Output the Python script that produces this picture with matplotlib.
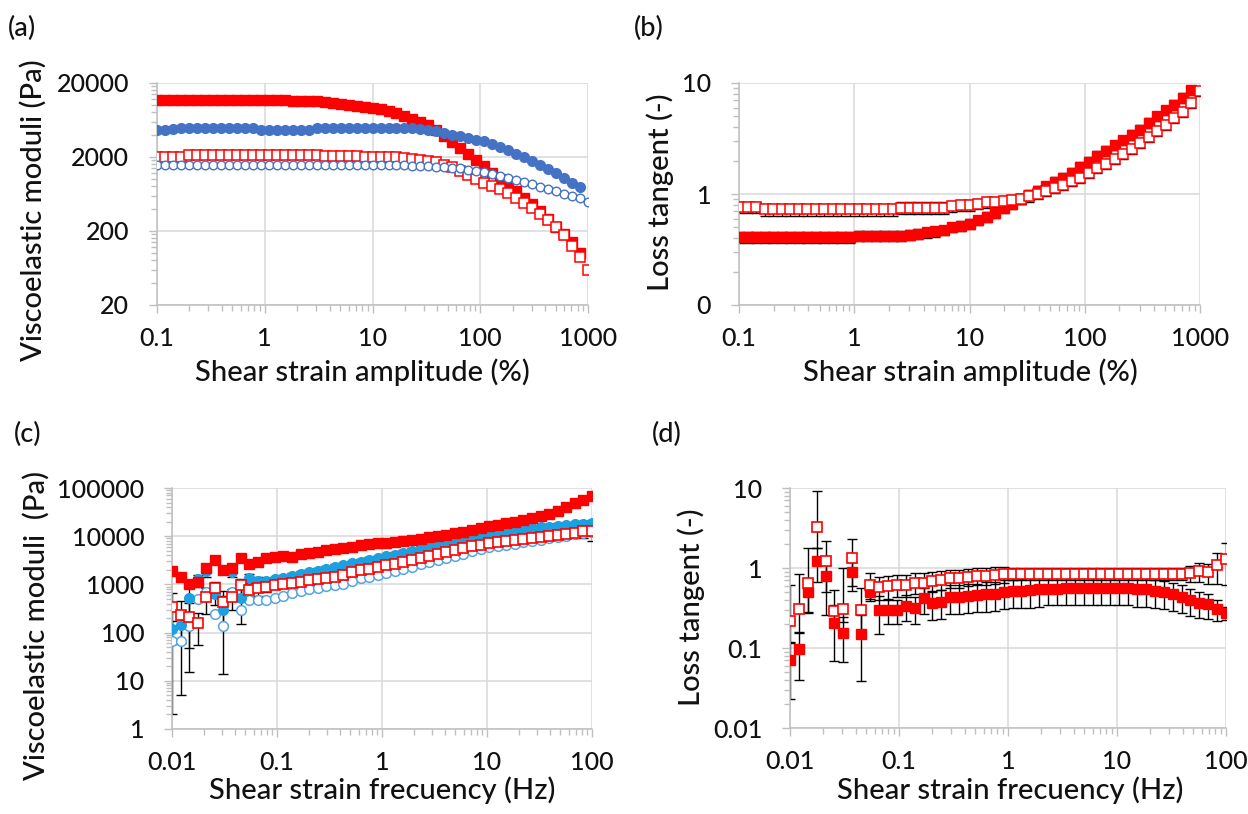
import matplotlib
matplotlib.use('Agg')
import matplotlib.pyplot as plt
from matplotlib.ticker import FixedLocator, FixedFormatter, NullFormatter

plt.rcParams['font.family'] = ['Lato', 'DejaVu Sans']
plt.rcParams['font.weight'] = 'medium'

# ---------------- data: strain sweep (panels a, b) ----------------
strain = [0.1, 0.119, 0.141, 0.167, 0.198, 0.235, 0.278, 0.33, 0.391, 0.464,
          0.55, 0.653, 0.774, 0.918, 1.09, 1.29, 1.53, 1.82, 2.15, 2.56,
          3.03, 3.59, 4.26, 5.06, 6.0, 7.11, 8.43, 10.0, 11.9, 14.1,
          16.7, 19.8, 23.5, 27.8, 33.0, 39.1, 46.4, 55.1, 65.3, 77.4,
          91.8, 109, 129, 153, 182, 215, 256, 303, 359, 426,
          506, 600, 711, 843, 1000]

# (a) red sample storage modulus (filled squares), ends at 843 %
a_red_Gp = [11900, 11900, 11900, 11900, 11900, 11900, 11900, 11900, 11900, 11900,
            11900, 11900, 11900, 11900, 11900, 11900, 11900, 11600, 11600, 11600,
            11300, 11000, 10750, 10500, 10200, 9900, 9500, 9150, 8800, 8300,
            7800, 7200, 6600, 6000, 5400, 4600, 3800, 3200, 2650, 2200,
            1830, 1530, 1220, 1000, 830, 700, 560, 460, 370, 290,
            225, 180, 140, 100]
# (a) red sample loss modulus (open squares)
a_red_Gpp = [1980, 1980, 1980, 1980, 2100, 2100, 2100, 2100, 2100, 2100,
             2100, 2100, 2100, 2100, 2100, 2100, 2100, 2100, 2100, 2100,
             2100, 2060, 2060, 2060, 2060, 2060, 2020, 2020, 2020, 2020,
             1980, 1950, 1900, 1850, 1780, 1700, 1580, 1450, 1300, 1150,
             1000, 900, 820, 740, 650, 560, 480, 410, 340, 280,
             225, 175, 125, 88, 60]
# (a) blue sample storage modulus (filled circles), ends at 843 %
a_blue_Gp = [4600, 4650, 4750, 4900, 4900, 4900, 4900, 4900, 4900, 4900,
             4900, 4900, 4900, 4700, 4700, 4700, 4700, 4700, 4700, 4700,
             4900, 4900, 4900, 4900, 4900, 4900, 4900, 4900, 4900, 4900,
             4900, 4900, 4900, 4800, 4650, 4450, 4250, 4000, 3800, 3600,
             3400, 3250, 3000, 2750, 2450, 2200, 1980, 1750, 1560, 1380,
             1200, 1040, 900, 780]
# (a) blue sample loss modulus (open circles)
a_blue_Gpp = [1540, 1540, 1540, 1540, 1540, 1540, 1540, 1540, 1540, 1540,
              1540, 1540, 1540, 1540, 1540, 1540, 1540, 1540, 1540, 1540,
              1540, 1540, 1540, 1540, 1540, 1540, 1540, 1540, 1540, 1540,
              1540, 1540, 1520, 1500, 1490, 1480, 1460, 1430, 1400, 1350,
              1300, 1240, 1170, 1100, 1040, 980, 920, 850, 790, 740,
              690, 640, 590, 550, 500]

# (b) loss tangent, open squares (to 1000 %) and filled squares (to 843 %)
b_open = [0.76, 0.76, 0.76, 0.73, 0.73, 0.73, 0.73, 0.73, 0.73, 0.73,
          0.73, 0.73, 0.73, 0.73, 0.73, 0.73, 0.73, 0.73, 0.73, 0.75,
          0.75, 0.75, 0.75, 0.75, 0.75, 0.78, 0.79, 0.80, 0.82, 0.84,
          0.85, 0.86, 0.88, 0.91, 0.95, 1.0, 1.06, 1.13, 1.2, 1.3,
          1.4, 1.55, 1.7, 1.87, 2.05, 2.3, 2.55, 2.9, 3.25, 3.7,
          4.2, 4.8, 5.5, 6.6, 8.4]
b_open_err = [0.09, 0.09, 0.09, 0.09, 0.09, 0.09, 0.09, 0.09, 0.09, 0.09,
              0.09, 0.09, 0.09, 0.09, 0.09, 0.09, 0.09, 0.09, 0.09, 0.09,
              0.09, 0.09, 0.09, 0.09, 0.09, 0.09, 0.09, 0.09, 0.09, 0.09,
              0.09, 0.09, 0.09, 0.09, 0.095, 0.1, 0.105, 0.11, 0.12, 0.13,
              0.14, 0.155, 0.17, 0.19, 0.2, 0.23, 0.26, 0.29, 0.33, 0.37,
              0.42, 0.48, 0.55, 0.66, 0.84]
b_filled = [0.41, 0.41, 0.41, 0.41, 0.41, 0.41, 0.41, 0.41, 0.41, 0.41,
            0.41, 0.41, 0.41, 0.41, 0.42, 0.42, 0.42, 0.42, 0.42, 0.42,
            0.43, 0.44, 0.45, 0.46, 0.47, 0.50, 0.52, 0.54, 0.58, 0.62,
            0.68, 0.75, 0.82, 0.90, 0.98, 1.07, 1.17, 1.28, 1.4, 1.55,
            1.75, 1.95, 2.2, 2.45, 2.75, 3.05, 3.4, 3.8, 4.4, 5.0,
            5.7, 6.4, 7.4, 8.6]
b_filled_err = [0.045, 0.045, 0.045, 0.045, 0.045, 0.045, 0.045, 0.045, 0.045, 0.045,
                0.045, 0.045, 0.045, 0.045, 0.045, 0.045, 0.045, 0.045, 0.045, 0.045,
                0.045, 0.045, 0.045, 0.046, 0.047, 0.05, 0.052, 0.054, 0.058, 0.062,
                0.068, 0.075, 0.082, 0.09, 0.098, 0.11, 0.12, 0.13, 0.14, 0.155,
                0.175, 0.195, 0.22, 0.245, 0.275, 0.3, 0.34, 0.38, 0.44, 0.5,
                0.57, 0.64, 0.74, 0.86]

# ---------------- data: frequency sweep (panels c, d) ----------------
freq = [0.01, 0.0121, 0.0146, 0.0176, 0.0212, 0.0256, 0.0309, 0.0373, 0.045, 0.0543,
        0.0655, 0.0791, 0.0954, 0.115, 0.139, 0.168, 0.202, 0.244, 0.295, 0.356,
        0.429, 0.518, 0.625, 0.754, 0.91, 1.1, 1.33, 1.6, 1.93, 2.33,
        2.81, 3.39, 4.1, 4.94, 5.96, 7.2, 8.69, 10.5, 12.6, 15.3,
        18.4, 22.2, 26.8, 32.4, 39.1, 47.2, 56.9, 68.7, 82.9, 100]

c_red_Gp = [1890, 1420, 1030, 1120, 2210, 3140, 1950, 2210, 3450, 2680,
            2940, 3450, 3700, 3850, 3700, 4200, 4450, 4800, 5150, 5450,
            5750, 6100, 6450, 6800, 7100, 7400, 7600, 7950, 8400, 8900,
            9500, 10100, 10800, 11600, 12500, 13500, 14700, 16000, 17200, 18600,
            20000, 21700, 23700, 26000, 29400, 34000, 40000, 48000, 57000, 68000]
c_red_Gp_err = [300, 250, 200, 250, 350, 400, 300, 350, 400, 350,
                350, 400, 400, 400, 400, 450, 450, 500, 500, 550,
                550, 600, 650, 650, 700, 700, 750, 800, 850, 900,
                950, 1000, 1100, 1200, 1300, 1400, 1500, 1600, 1700, 1900,
                2000, 2200, 2400, 2600, 2900, 3400, 4000, 4800, 5700, 6800]
c_red_Gpp = [340, 232, 215, 156, 547, 853, 438, 547, 970, 763,
             826, 881, 953, 1000, 1050, 1110, 1210, 1270, 1370, 1450,
             1550, 1820, 1960, 2130, 2270, 2480, 2680, 2950, 3230, 3540,
             3880, 4250, 4660, 5100, 5600, 6130, 6720, 7370, 7750, 8100,
             8500, 8900, 9350, 9800, 10300, 10800, 11300, 11900, 12600, 12900]
c_red_Gpp_err = [338, 227, 200, 100, 300, 250, 300, 250, 350, 300,
                 250, 200, 120, 120, 130, 130, 140, 150, 160, 170,
                 180, 210, 230, 250, 270, 300, 320, 350, 390, 420,
                 460, 510, 560, 610, 670, 740, 800, 880, 930, 970,
                 1000, 1100, 1100, 1200, 1200, 1300, 1400, 1500, 3600, 5000]
c_blue_Gp = [117, 141, 530, 1300, 1900, 621, 290, 1800, 513, 1374,
             1170, 1170, 1270, 1380, 1500, 1640, 1780, 1940, 2110, 2300,
             2500, 2720, 2960, 3220, 3500, 3810, 4150, 4500, 4950, 5450,
             6000, 6600, 7250, 7950, 8700, 9500, 10400, 11200, 12000, 12700,
             13400, 14000, 14600, 15200, 15800, 16400, 17000, 17600, 18300, 19000]
c_blue_Gp_err = [60, 80, 483, 300, 500, 250, 276, 400, 360, 300,
                 250, 200, 180, 190, 200, 220, 230, 250, 270, 290,
                 310, 340, 370, 400, 440, 480, 520, 560, 620, 680,
                 750, 820, 900, 980, 1050, 1150, 1250, 1350, 1450, 1550,
                 1600, 1700, 1750, 1850, 1900, 2000, 2050, 2100, 2200, 2300]
c_blue_Gpp = [67, 67, 137, 490, 693, 240, 137, 693, 290, 466,
              466, 466, 530, 574, 673, 728, 790, 853, 925, 970,
              1030, 1170, 1330, 1420, 1560, 1750, 1890, 2100, 2330, 2590,
              2870, 3190, 3540, 3930, 4360, 4840, 5370, 5950, 6250, 6570,
              7000, 7450, 7950, 8450, 9000, 9600, 10200, 10900, 11600, 12300]

d_filled = [0.0698, 0.0967, 0.506, 1.22, 0.80, 0.204, 0.156, 0.898, 0.149, 0.506,
            0.299, 0.299, 0.299, 0.335, 0.32, 0.418, 0.361, 0.38, 0.438, 0.438,
            0.45, 0.46, 0.47, 0.48, 0.506, 0.515, 0.52, 0.53, 0.54, 0.55,
            0.55, 0.56, 0.56, 0.56, 0.56, 0.56, 0.56, 0.56, 0.56, 0.55,
            0.54, 0.515, 0.50, 0.47, 0.44, 0.40, 0.37, 0.35, 0.31, 0.276]
d_filled_err = [0.047, 0.057, 0.23, 0.55, 0.3, 0.136, 0.09, 0.3, 0.11, 0.12,
                0.15, 0.1, 0.1, 0.12, 0.12, 0.15, 0.14, 0.15, 0.17, 0.17,
                0.18, 0.18, 0.19, 0.19, 0.2, 0.2, 0.2, 0.21, 0.21, 0.21,
                0.21, 0.22, 0.22, 0.22, 0.22, 0.22, 0.22, 0.22, 0.22, 0.22,
                0.21, 0.2, 0.19, 0.18, 0.17, 0.15, 0.13, 0.12, 0.09, 0.05]
d_open = [0.218, 0.308, 0.655, 3.27, 1.22, 0.293, 0.31, 1.315, 0.30, 0.612,
          0.58, 0.59, 0.61, 0.61, 0.655, 0.655, 0.69, 0.71, 0.74, 0.74,
          0.78, 0.79, 0.80, 0.82, 0.83, 0.85, 0.85, 0.85, 0.85, 0.85,
          0.85, 0.85, 0.85, 0.85, 0.85, 0.85, 0.85, 0.85, 0.85, 0.85,
          0.85, 0.85, 0.85, 0.85, 0.85, 0.87, 0.91, 0.88, 1.09, 1.31]
d_open_err_lo = [0.1, 0.15, 0.37, 1.5, 0.96, 0.1, 0.1, 0.8, 0.15, 0.2,
                 0.18, 0.18, 0.18, 0.18, 0.18, 0.18, 0.18, 0.18, 0.18, 0.18,
                 0.18, 0.18, 0.18, 0.18, 0.18, 0.15, 0.15, 0.15, 0.15, 0.15,
                 0.15, 0.15, 0.15, 0.15, 0.15, 0.15, 0.15, 0.15, 0.15, 0.15,
                 0.15, 0.15, 0.15, 0.15, 0.15, 0.2, 0.25, 0.25, 0.45, 0.7]
d_open_err_hi = [0.39, 0.54, 1.13, 5.8, 0.95, 0.24, 0.7, 1.0, 0.26, 0.25,
                 0.2, 0.2, 0.2, 0.2, 0.2, 0.2, 0.2, 0.2, 0.2, 0.2,
                 0.2, 0.2, 0.2, 0.2, 0.2, 0.15, 0.15, 0.15, 0.15, 0.15,
                 0.15, 0.15, 0.15, 0.15, 0.15, 0.15, 0.15, 0.15, 0.15, 0.15,
                 0.15, 0.15, 0.15, 0.15, 0.15, 0.2, 0.25, 0.25, 0.43, 0.75]

# tick labels
a_yticks = [20, 200, 2000, 20000]
a_ylabels = ['20', '200', '2000', '20000']
ab_xticks = [0.1, 1, 10, 100, 1000]
ab_xlabels = ['0.1', '1', '10', '100', '1000']
b_yticks = [0.1, 1, 10]
b_ylabels = ['0', '1', '10']
cd_xticks = [0.01, 0.1, 1, 10, 100]
cd_xlabels = ['0.01', '0.1', '1', '10', '100']
c_yticks = [1, 10, 100, 1000, 10000, 100000]
c_ylabels = ['1', '10', '100', '1000', '10000', '100000']
d_yticks = [0.01, 0.1, 1, 10]
d_ylabels = ['0.01', '0.1', '1', '10']

RED = '#FF0000'
BLUE = '#4472C4'
SKY = '#1BA1E2'
SKY_EDGE = '#56A5E3'
GRID = '#D9D9D9'
AXC = '#BFBFBF'
TXT = '#111111'

W, H = 1248, 814
fig = plt.figure(figsize=(W / 100, H / 100), dpi=100)


def px_axes(l, t, r, b):
    return fig.add_axes([l / W, 1 - b / H, (r - l) / W, (b - t) / H])


def minor_positions(lo, hi, mults):
    out = []
    dec = lo
    while dec < hi * 10:
        for m in mults:
            v = dec * m
            if lo < v < hi:
                out.append(v)
        dec *= 10
    return out


def style(ax, xlim, ylim, xt, xl, yt, yl, ybase):
    ax.set_xscale('log')
    ax.set_yscale('log')
    ax.set_xlim(*xlim)
    ax.set_ylim(*ylim)
    ax.xaxis.set_major_locator(FixedLocator(xt))
    ax.xaxis.set_major_formatter(FixedFormatter(xl))
    ax.yaxis.set_major_locator(FixedLocator(yt))
    ax.yaxis.set_major_formatter(FixedFormatter(yl))
    ax.xaxis.set_minor_locator(FixedLocator(minor_positions(xlim[0], xlim[1], range(2, 10))))
    ax.yaxis.set_minor_locator(FixedLocator(minor_positions(ybase, ylim[1], range(2, 10))))
    ax.xaxis.set_minor_formatter(NullFormatter())
    ax.yaxis.set_minor_formatter(NullFormatter())
    ax.grid(True, which='major', color=GRID, lw=1.1)
    ax.set_axisbelow(True)
    for s in ['top', 'right']:
        ax.spines[s].set_visible(False)
    for s in ['left', 'bottom']:
        ax.spines[s].set_color(AXC)
        ax.spines[s].set_linewidth(1.1)
    ax.tick_params(which='both', direction='out', color=AXC, width=1)
    ax.tick_params(which='major', length=6)
    ax.tick_params(which='minor', length=4)
    ax.tick_params(axis='y', which='major', pad=14, labelsize=18, labelcolor=TXT)
    ax.tick_params(axis='x', which='major', pad=10, labelsize=18, labelcolor=TXT)


def label_texts(letter, lxy, ylab, yxy, xlab, xxy):
    fig.text(lxy[0] / W, 1 - lxy[1] / H, letter, fontsize=19.5, ha='left', va='top', color=TXT)
    fig.text(yxy[0] / W, 1 - yxy[1] / H, ylab, fontsize=21, rotation=90,
             ha='center', va='center', color=TXT)
    fig.text(xxy[0] / W, 1 - xxy[1] / H, xlab, fontsize=21, ha='center', va='center',
             color=TXT)


# ---------------- (a) ----------------
ax = px_axes(157, 83, 588, 305)
style(ax, (0.1, 1000), (20, 20000), ab_xticks, ab_xlabels, a_yticks, a_ylabels, 20)
n_f = len(a_red_Gp)
ax.plot(strain[:n_f], a_red_Gp, ls='none', marker='s', ms=7.5, mfc=RED, mec=RED, zorder=3)
ax.plot(strain[:n_f], a_blue_Gp, ls='none', marker='o', ms=7, mfc=BLUE, mec=BLUE, zorder=4)
ax.plot(strain, a_red_Gpp, ls='none', marker='s', ms=6.5, mfc='white', mec=RED, mew=1.1, zorder=5)
ax.plot(strain, a_blue_Gpp, ls='none', marker='o', ms=6.2, mfc='white', mec=BLUE, mew=1.0, zorder=5)
label_texts('(a)', (8, 16), 'Viscoelastic moduli (Pa)', (33, 210),
            'Shear strain amplitude (%)', (362, 372))

# ---------------- (b) ----------------
ax = px_axes(739, 83, 1200, 305)
style(ax, (0.1, 1000), (0.1, 10), ab_xticks, ab_xlabels, b_yticks, b_ylabels, 0.1)
n_b = len(b_filled)
ax.errorbar(strain[:n_b], b_filled, yerr=b_filled_err, fmt='none', ecolor='black',
            elinewidth=1, capsize=3.5, capthick=1, zorder=2)
ax.errorbar(strain, b_open, yerr=b_open_err, fmt='none', ecolor='black',
            elinewidth=1, capsize=3.5, capthick=1, zorder=2)
ax.plot(strain[:n_b], b_filled, ls='none', marker='s', ms=7.5, mfc=RED, mec=RED, zorder=3)
ax.plot(strain, b_open, ls='none', marker='s', ms=6.5, mfc='white', mec=RED, mew=1.1, zorder=4)
label_texts('(b)', (634, 16), 'Loss tangent (-)', (660, 192),
            'Shear strain amplitude (%)', (970, 372))

# ---------------- (c) ----------------
ax = px_axes(172, 488, 592, 729)
style(ax, (0.01, 100), (1, 100000), cd_xticks, cd_xlabels, c_yticks, c_ylabels, 1)
ax.errorbar(freq, c_red_Gpp, yerr=c_red_Gpp_err, fmt='none', ecolor='black',
            elinewidth=1, capsize=3.5, capthick=1, zorder=2)
ax.errorbar(freq, c_blue_Gp, yerr=c_blue_Gp_err, fmt='none', ecolor='black',
            elinewidth=1, capsize=3.5, capthick=1, zorder=2)
ax.errorbar(freq, c_red_Gp, yerr=c_red_Gp_err, fmt='none', ecolor='black',
            elinewidth=1, capsize=3.5, capthick=1, zorder=2)
ax.plot(freq, c_blue_Gpp, ls='none', marker='o', ms=7, mfc='white', mec=SKY_EDGE, mew=1.1, zorder=3)
ax.plot(freq, c_blue_Gp, ls='none', marker='o', ms=7, mfc=SKY, mec=SKY, zorder=4)
ax.plot(freq, c_red_Gpp, ls='none', marker='s', ms=7, mfc='white', mec=RED, mew=1.2, zorder=5)
ax.plot(freq, c_red_Gp, ls='none', marker='s', ms=7.5, mfc=RED, mec=RED, zorder=6)
label_texts('(c)', (14, 422), 'Viscoelastic moduli  (Pa)', (36, 626),
            'Shear strain frecuency (Hz)', (382, 790))

# ---------------- (d) ----------------
ax = px_axes(790, 488, 1226, 728)
style(ax, (0.01, 100), (0.01, 10), cd_xticks, cd_xlabels, d_yticks, d_ylabels, 0.01)
ax.errorbar(freq, d_filled, yerr=d_filled_err, fmt='none', ecolor='black',
            elinewidth=1, capsize=3.5, capthick=1, zorder=2)
ax.errorbar(freq, d_open, yerr=[d_open_err_lo, d_open_err_hi], fmt='none', ecolor='black',
            elinewidth=1, capsize=3.5, capthick=1, zorder=2)
ax.plot(freq, d_filled, ls='none', marker='s', ms=7.5, mfc=RED, mec=RED, zorder=3)
ax.plot(freq, d_open, ls='none', marker='s', ms=7, mfc='white', mec=RED, mew=1.2, zorder=4)
label_texts('(d)', (652, 422), 'Loss tangent (-)', (691, 607),
            'Shear strain frecuency (Hz)', (1010, 790))

fig.savefig('out.png', dpi=100)
